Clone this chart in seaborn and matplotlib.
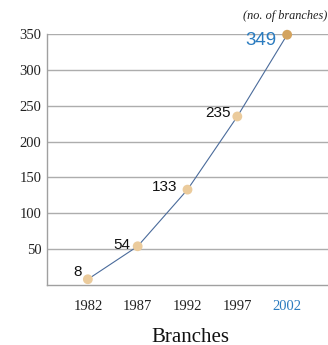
import matplotlib
matplotlib.use("Agg")
import matplotlib.pyplot as plt
import seaborn as sns
import pandas as pd

# Branch network growth
years = ["1982", "1987", "1992", "1997", "2002"]
branches = [8, 54, 133, 235, 349]
y_ticks = [50, 100, 150, 200, 250, 300, 350]

# Label placement relative to each marker (pixels: dx, dy)
label_offsets = [(-6, 7), (-7, 1), (-10, 3), (-7, 3), (-11, -6)]

sns.set_theme(style="white")
plt.rcParams["font.family"] = ["Liberation Serif", "DejaVu Serif"]

BLUE = "#2A7BBF"
GRID = "#ADADAD"

df = pd.DataFrame({"year": years, "branches": branches})
df["latest"] = df["year"] == years[-1]

fig = plt.figure(figsize=(3.28, 3.45), dpi=100)
ax = fig.add_axes([47 / 328, 60 / 345, 281 / 328, 251 / 345])

sns.lineplot(data=df, x="year", y="branches", color="#4A6B9B",
             linewidth=0.8, sort=False, ax=ax, zorder=2)
sns.scatterplot(data=df, x="year", y="branches", hue="latest",
                palette={False: "#EBCB9C", True: "#D3A35E"},
                s=50, edgecolor="none", legend=False, ax=ax, zorder=3,
                clip_on=False)

ax.set_xlim(-0.82, len(years) - 1 + 0.82)
ax.set_ylim(0, 350)
ax.set_yticks(y_ticks)
ax.yaxis.grid(True, color=GRID, linewidth=1.0)
ax.set_axisbelow(True)
ax.set_xlabel("")
ax.set_ylabel("")

for side in ["top", "right"]:
    ax.spines[side].set_visible(False)
for side in ["left", "bottom"]:
    ax.spines[side].set_color("#A0A0A0")
    ax.spines[side].set_linewidth(1.0)

ax.tick_params(axis="y", length=0, pad=4, labelsize=10.5, labelcolor="#222222")
ax.tick_params(axis="x", length=0, pad=11, labelsize=10.5, labelcolor="#222222")
ax.get_xticklabels()[-1].set_color(BLUE)

for i, (yr, val) in enumerate(zip(years, branches)):
    last = i == len(years) - 1
    ax.annotate(str(val), xy=(i, val), xytext=label_offsets[i],
                textcoords="offset pixels", ha="right", va="center",
                fontfamily=["Liberation Sans", "DejaVu Sans"],
                fontsize=13.5 if last else 11,
                color=BLUE if last else "#111111", zorder=4)

fig.text(0.998, 1 - 16 / 345, "(no. of branches)", ha="right", va="center",
         fontsize=8.8, style="italic", color="#222222")
fig.text(190 / 328, 1 - 337 / 345, "Branches", ha="center", va="center",
         fontsize=15, color="#111111")

fig.savefig("out.png", dpi=100)
